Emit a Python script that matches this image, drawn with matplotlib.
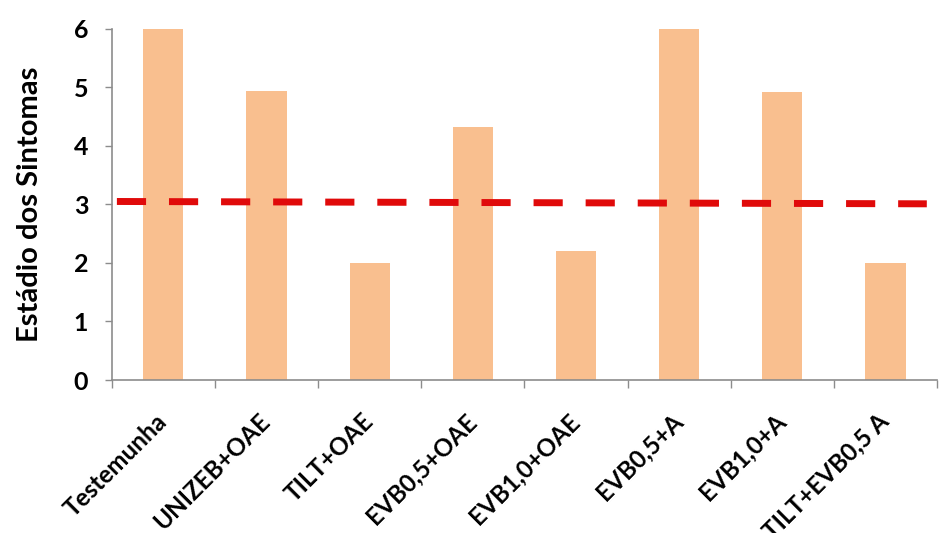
import matplotlib.pyplot as plt
import numpy as np

# dados
tratamentos = ["Testemunha", "UNIZEB+OAE", "TILT+OAE", "EVB0,5+OAE",
               "EVB1,0+OAE", "EVB0,5+A", "EVB1,0+A", "TILT+EVB0,5 A"]
estadio = [6.0, 4.93, 2.0, 4.32, 2.2, 6.0, 4.92, 2.0]

# linha de referência (tracejada)
ref_x = [-0.45, 7.4]
ref_y = [3.05, 3.01]

plt.rcParams['font.family'] = ['Lato', 'DejaVu Sans']

fig = plt.figure(figsize=(9.39, 5.33), dpi=100)
ax = fig.add_axes([0.119, 0.287, 0.879, 0.659])

x = np.arange(len(tratamentos))
ax.bar(x, estadio, width=0.39, color="#F9BF8F", zorder=2)
ax.plot(ref_x, ref_y, color="#E00A0A", linewidth=5,
        dashes=(4.2, 3.3), zorder=3)

ax.set_xlim(-0.5, len(tratamentos) - 0.5)
ax.set_ylim(0, 6)
ax.set_yticks(range(0, 7))
ax.set_yticklabels([str(i) for i in range(0, 7)], fontsize=18, fontweight='bold')

# ticks nas fronteiras das categorias
ax.set_xticks(np.arange(-0.5, len(tratamentos) + 0.5, 1.0))
ax.set_xticklabels([])
ax.tick_params(axis='x', length=6, color="#8C8C8C", width=1)
ax.tick_params(axis='y', length=5, color="#8C8C8C", width=1, pad=12)

for xi, lab in zip(x, tratamentos):
    ax.text(xi - 0.08, -0.5, lab, rotation=45, ha='right', va='top',
            rotation_mode='anchor', fontsize=17.5, fontweight='bold')

for s in ['top', 'right']:
    ax.spines[s].set_visible(False)
for s in ['left', 'bottom']:
    ax.spines[s].set_color("#8C8C8C")
    ax.spines[s].set_linewidth(1.2)

ax.set_ylabel("Estádio dos Sintomas", fontsize=21, fontweight='bold', labelpad=22)

fig.savefig("out.png", dpi=100)
